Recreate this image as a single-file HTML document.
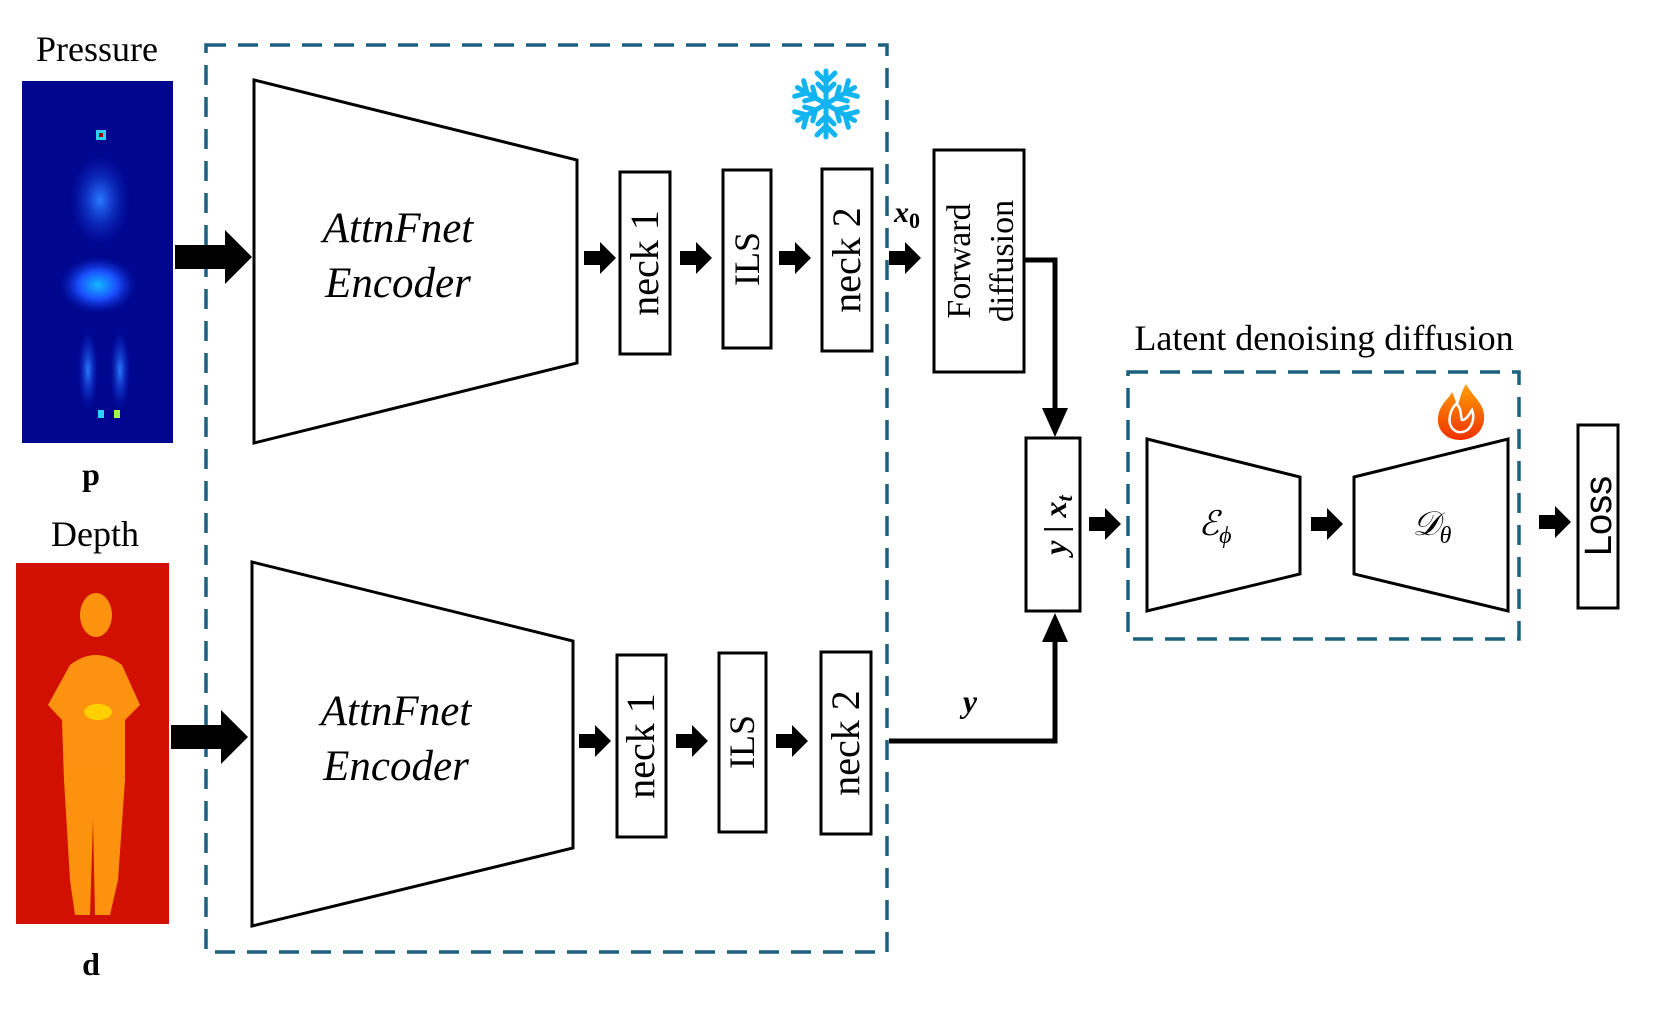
<!DOCTYPE html>
<html><head><meta charset="utf-8"><style>
html,body{margin:0;padding:0;background:#fff;}
svg{display:block;}
text{font-family:"Liberation Serif",serif;fill:#000;}
</style></head><body>
<svg width="1669" height="1026" viewBox="0 0 1669 1026" xmlns="http://www.w3.org/2000/svg">
<defs>
<radialGradient id="blob" cx="50%" cy="50%" r="50%"><stop offset="0" stop-color="#2a7bff"/><stop offset="1" stop-color="#0a2ad0" stop-opacity="0"/></radialGradient>
<radialGradient id="blob2" cx="50%" cy="50%" r="50%"><stop offset="0" stop-color="#14b8ff"/><stop offset="0.5" stop-color="#1a50ff"/><stop offset="1" stop-color="#0a2ad0" stop-opacity="0"/></radialGradient>
<linearGradient id="flame" x1="0" y1="0" x2="0" y2="1"><stop offset="0" stop-color="#ffa000"/><stop offset="1" stop-color="#f03000"/></linearGradient>
<g id="sa"><polygon points="0,-7 16,-7 16,-16 32,0 16,16 16,7 0,7" fill="#000"/></g>
<g id="ba"><polygon points="0,-12 50,-12 50,-27 77,0 50,27 50,12 0,12" fill="#000"/></g>
</defs>

<!-- Pressure -->
<text x="97" y="61" font-size="36" text-anchor="middle">Pressure</text>
<rect x="22" y="81" width="151" height="362" fill="#00078f"/>
<ellipse cx="100" cy="200" rx="30" ry="45" fill="url(#blob)"/>
<ellipse cx="98" cy="285" rx="38" ry="28" fill="url(#blob2)"/>
<ellipse cx="88" cy="370" rx="10" ry="40" fill="url(#blob)"/>
<ellipse cx="120" cy="370" rx="10" ry="40" fill="url(#blob)"/>
<rect x="96" y="130" width="10" height="10" fill="#2fd0ff"/>
<rect x="99" y="133" width="4" height="4" fill="#900"/>
<rect x="98" y="410" width="6" height="8" fill="#2fd0ff"/>
<rect x="114" y="410" width="6" height="8" fill="#a0ff40"/>
<text x="91" y="485" font-size="32" font-weight="bold" text-anchor="middle">p</text>

<!-- Depth -->
<text x="95" y="546" font-size="36" text-anchor="middle">Depth</text>
<rect x="16" y="563" width="153" height="361" fill="#d21000"/>
<g fill="#ff9a10" opacity="0.95">
<ellipse cx="96" cy="615" rx="16" ry="22"/>
<path d="M70,665 Q96,645 122,665 L140,705 L125,720 L125,780 L118,880 L110,915 L95,915 L93,820 L90,915 L75,915 L70,880 L64,780 L62,720 L48,705 Z"/>
</g>
<ellipse cx="98" cy="712" rx="14" ry="8" fill="#ffd000"/>
<text x="91" y="975" font-size="32" font-weight="bold" text-anchor="middle">d</text>

<!-- Dashed frozen box -->
<rect x="206" y="45" width="681" height="907" fill="none" stroke="#1b6080" stroke-width="3.5" stroke-dasharray="20,12"/>

<!-- Snowflake -->
<g stroke="#12b4f0" stroke-width="5" stroke-linecap="round" fill="none" transform="translate(826,104)">
<g id="arm"><line x1="0" y1="0" x2="0" y2="-33"/><polyline points="-9,-31 0,-22 9,-31"/><polyline points="-8,-20 0,-12 8,-20"/></g>
<use href="#arm" transform="rotate(60)"/><use href="#arm" transform="rotate(120)"/><use href="#arm" transform="rotate(180)"/><use href="#arm" transform="rotate(240)"/><use href="#arm" transform="rotate(300)"/>
</g>

<!-- Big arrows -->
<use href="#ba" x="175" y="257"/>
<use href="#ba" x="171" y="737"/>

<!-- Top encoder -->
<polygon points="254,80 577,160 577,363 254,443" fill="#fff" stroke="#000" stroke-width="3"/>
<text x="398" y="242" font-size="43" font-style="italic" text-anchor="middle">AttnFnet</text>
<text x="398" y="297" font-size="43" font-style="italic" text-anchor="middle">Encoder</text>
<!-- Bottom encoder -->
<polygon points="252,562 573,641 573,848 252,926" fill="#fff" stroke="#000" stroke-width="3"/>
<text x="396" y="725" font-size="43" font-style="italic" text-anchor="middle">AttnFnet</text>
<text x="396" y="780" font-size="43" font-style="italic" text-anchor="middle">Encoder</text>

<!-- Top row -->
<rect x="620" y="172" width="50" height="182" fill="#fff" stroke="#000" stroke-width="3"/>
<text transform="translate(658,263) rotate(-90)" font-size="40" text-anchor="middle">neck 1</text>
<rect x="723" y="170" width="48" height="178" fill="#fff" stroke="#000" stroke-width="3"/>
<text transform="translate(759,259) rotate(-90)" font-size="36" text-anchor="middle">ILS</text>
<rect x="822" y="169" width="50" height="182" fill="#fff" stroke="#000" stroke-width="3"/>
<text transform="translate(860,260) rotate(-90)" font-size="40" text-anchor="middle">neck 2</text>
<use href="#sa" x="584" y="258"/>
<use href="#sa" x="680" y="258"/>
<use href="#sa" x="779" y="258"/>
<use href="#sa" x="889" y="258"/>

<!-- Bottom row -->
<rect x="617" y="655" width="49" height="182" fill="#fff" stroke="#000" stroke-width="3"/>
<text transform="translate(654,746) rotate(-90)" font-size="40" text-anchor="middle">neck 1</text>
<rect x="719" y="653" width="47" height="179" fill="#fff" stroke="#000" stroke-width="3"/>
<text transform="translate(754,742) rotate(-90)" font-size="36" text-anchor="middle">ILS</text>
<rect x="821" y="652" width="50" height="182" fill="#fff" stroke="#000" stroke-width="3"/>
<text transform="translate(859,743) rotate(-90)" font-size="40" text-anchor="middle">neck 2</text>
<use href="#sa" x="579" y="741"/>
<use href="#sa" x="676" y="741"/>
<use href="#sa" x="776" y="741"/>

<!-- x0 -->
<text x="894" y="222" font-size="30" font-style="italic" font-weight="bold">x<tspan font-size="22" dy="6" font-style="normal">0</tspan></text>

<!-- Forward diffusion -->
<rect x="934" y="150" width="90" height="222" fill="#fff" stroke="#000" stroke-width="3"/>
<text transform="translate(970,261) rotate(-90)" font-size="34" text-anchor="middle">Forward</text>
<text transform="translate(1013,261) rotate(-90)" font-size="34" text-anchor="middle">diffusion</text>

<!-- connectors -->
<polyline points="1024,260 1055,260 1055,410" fill="none" stroke="#000" stroke-width="5"/>
<polygon points="1042,408 1068,408 1055,437" fill="#000"/>
<polyline points="889,741 1055,741 1055,640" fill="none" stroke="#000" stroke-width="5"/>
<polygon points="1042,642 1068,642 1055,613" fill="#000"/>
<text x="970" y="712" font-size="32" font-style="italic" font-weight="bold" text-anchor="middle">y</text>

<!-- y|xt -->
<rect x="1026" y="438" width="54" height="173" fill="#fff" stroke="#000" stroke-width="3"/>
<text transform="translate(1066,525) rotate(-90)" font-size="32" font-weight="bold" font-style="italic" text-anchor="middle">y | x<tspan font-size="22" dy="6">t</tspan></text>
<use href="#sa" x="1089" y="524"/>

<!-- Latent box -->
<text x="1324" y="350" font-size="36" text-anchor="middle">Latent denoising diffusion</text>
<rect x="1128" y="372" width="391" height="267" fill="none" stroke="#1b6080" stroke-width="3.5" stroke-dasharray="20,12"/>
<polygon points="1147,439 1300,477 1300,574 1147,611" fill="#fff" stroke="#000" stroke-width="3"/>
<text x="1215" y="535" font-size="34" font-style="italic" text-anchor="middle">ℰ<tspan font-size="24" dy="8">ϕ</tspan></text>
<use href="#sa" x="1311" y="524"/>
<polygon points="1354,477 1508,439 1508,611 1354,574" fill="#fff" stroke="#000" stroke-width="3"/>
<text x="1432" y="535" font-size="34" font-style="italic" text-anchor="middle">𝒟<tspan font-size="24" dy="8">θ</tspan></text>

<!-- flame -->
<path d="M1466,384 C1472,396 1486,404 1484,420 C1482,436 1468,440 1460,440 C1446,440 1437,430 1438,418 C1439,404 1450,398 1452,392 C1455,398 1456,404 1458,406 C1460,398 1462,390 1466,384 Z" fill="url(#flame)"/>
<path d="M1456,404 C1448,412 1446,428 1458,432 C1470,434 1476,420 1472,410 C1468,416 1466,420 1462,420 C1460,414 1462,408 1456,404 Z" fill="none" stroke="#fff" stroke-width="2.5"/>

<use href="#sa" x="1539" y="522"/>
<!-- Loss -->
<rect x="1578" y="425" width="40" height="183" fill="#fff" stroke="#000" stroke-width="3"/>
<text transform="translate(1611,516) rotate(-90)" font-size="38" style="font-family:'Liberation Sans',sans-serif" text-anchor="middle">Loss</text>
</svg>
</body></html>
